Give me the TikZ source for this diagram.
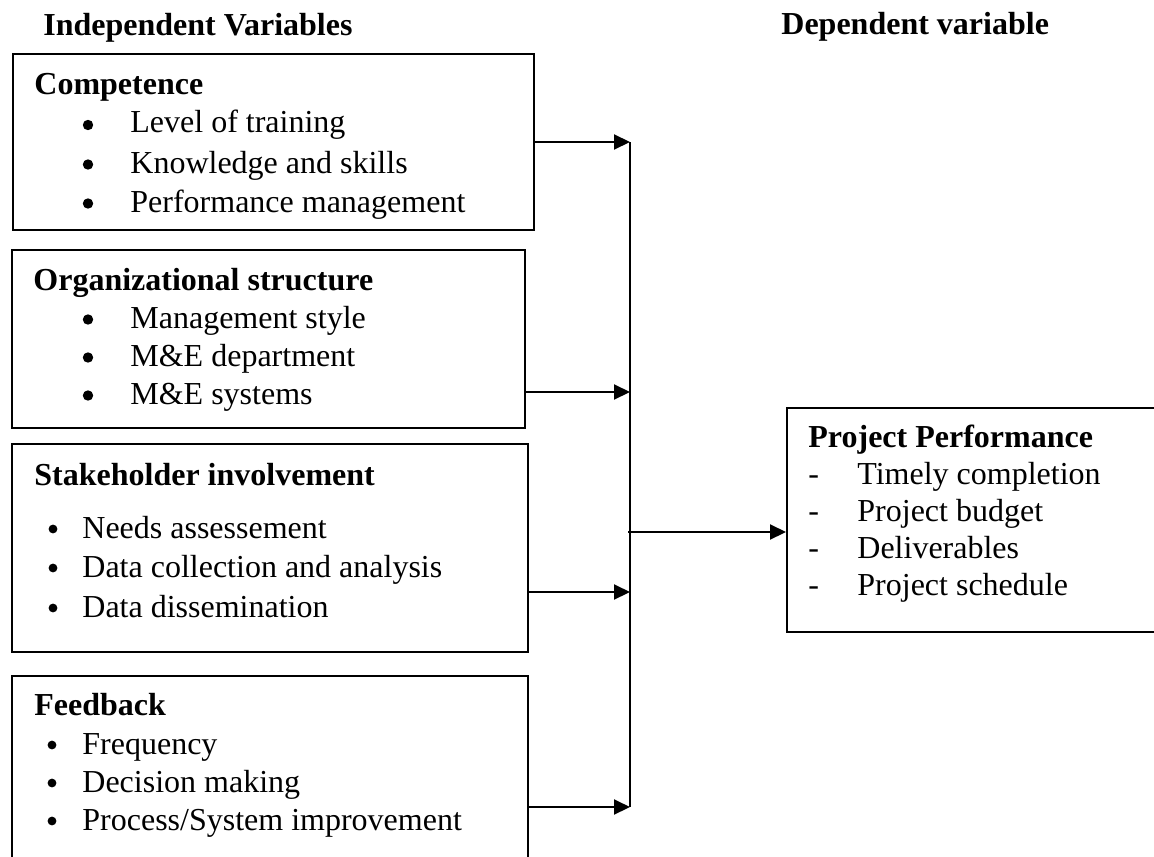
\documentclass[tikz,border=0pt]{standalone}
\usepackage{fontspec}
\setmainfont{Liberation Serif}
\usetikzlibrary{arrows.meta,fit}
\begin{document}
\begin{tikzpicture}[x=0.5pt,y=-0.5pt,
  box/.style={draw, line width=1pt, inner sep=0pt},
  txt/.style={anchor=base west, inner sep=0pt, font=\fontsize{16}{19}\selectfont},
  bulbig/.style={circle, fill, inner sep=0pt, minimum size=5.2pt},
  bulsm/.style={circle, fill, inner sep=0pt, minimum size=4.4pt},
  hd/.style={anchor=base west, inner sep=0pt, font=\fontsize{16}{19}\selectfont\bfseries},
  arr/.style={line width=1pt, -{Triangle[length=8pt,width=7.5pt]}},
  ln/.style={line width=1pt}]
\useasboundingbox (0,0) rectangle (1154,856);
\clip (0,0) rectangle (1154,856);

% headers
\node[hd] (hind) at (43,36) {Independent Variables};
\node[hd] (hdep) at (781,35) {Dependent variable};

% boxes
\node[box, fit={(13,54) (534,230)}] (comp) {};
\node[box, fit={(12,250) (525,428)}] (org) {};
\node[box, fit={(12,444) (528,652)}] (stake) {};
\node[box, fit={(12,676) (528,890)}] (feed) {};
\node[box, fit={(787,408) (1190,632)}] (perf) {};

% Competence
\node[hd] (tc) at (34,95) {Competence};
\node[bulbig] (bc1) at (88,125) {};
\node[bulbig] (bc2) at (88,164.5) {};
\node[bulbig] (bc3) at (88,203.5) {};
\node[txt] (c1) at (130,133) {Level of training};
\node[txt] (c2) at (130,173) {Knowledge and skills};
\node[txt] (c3) at (130,212) {Performance management};

% Organizational structure
\node[hd] (to) at (33,290) {Organizational structure};
\node[bulbig] (bo1) at (88,319.5) {};
\node[bulbig] (bo2) at (88,357.5) {};
\node[bulbig] (bo3) at (88,395.5) {};
\node[txt] (o1) at (130,328) {Management style};
\node[txt] (o2) at (130,366) {M\&E department};
\node[txt] (o3) at (130,404) {M\&E systems};

% Stakeholder involvement
\node[hd] (ts) at (34,485) {Stakeholder involvement};
\node[bulsm] (bs1) at (53,529) {};
\node[bulsm] (bs2) at (53,568) {};
\node[bulsm] (bs3) at (53,608) {};
\node[txt] (s1) at (82,538) {Needs assessement};
\node[txt] (s2) at (82,577) {Data collection and analysis};
\node[txt] (s3) at (82,617) {Data dissemination};

% Feedback
\node[hd] (tf) at (34,715) {Feedback};
\node[bulsm] (bf1) at (52,745) {};
\node[bulsm] (bf2) at (52,783) {};
\node[bulsm] (bf3) at (52,821) {};
\node[txt] (f1) at (82,754) {Frequency};
\node[txt] (f2) at (82,792) {Decision making};
\node[txt] (f3) at (82,830) {Process/System improvement};

% Project Performance
\node[hd] (tp) at (808,447) {Project Performance};
\node[txt] (dp1) at (808,484) {-};
\node[txt] (dp2) at (808,521) {-};
\node[txt] (dp3) at (808,558) {-};
\node[txt] (dp4) at (808,595) {-};
\node[txt] (p1) at (857,484) {Timely completion};
\node[txt] (p2) at (857,521) {Project budget};
\node[txt] (p3) at (857,558) {Deliverables};
\node[txt] (p4) at (857,595) {Project schedule};

% connectors
\coordinate (j1) at (630,142);
\coordinate (j2) at (630,392);
\coordinate (j3) at (630,592);
\coordinate (j4) at (630,807);
\coordinate (jm) at (628,532);
\draw[arr] (comp.east |- j1) -- (j1);
\draw[arr] (org.east |- j2) -- (j2);
\draw[arr] (stake.east |- j3) -- (j3);
\draw[arr] (feed.east |- j4) -- (j4);
\draw[ln] (j1) -- (j4);
\draw[arr] (jm) -- (perf.west |- jm);
\end{tikzpicture}
\end{document}
